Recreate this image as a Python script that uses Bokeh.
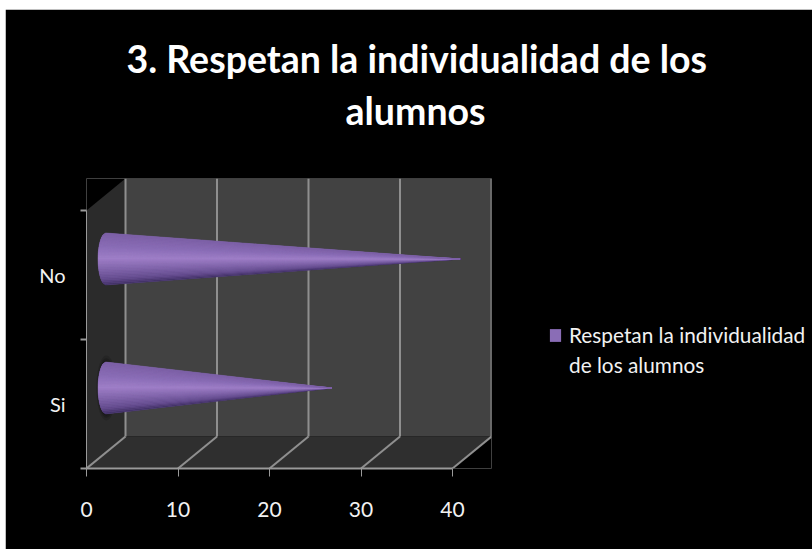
from bokeh.plotting import figure
from bokeh.models import FixedTicker, Title, Legend, LegendItem, Range1d
from bokeh.embed import file_html
from bokeh.resources import INLINE
import math

title_lines = ["3. Respetan la individualidad de los", "alumnos"]
categories = ["Si", "No"]
values = [24.7, 38.7]
x_ticks = [0, 10, 20, 30, 40]
legend_lines = ["Respetan la individualidad", "de los alumnos"]

BG = "#000000"
W, H = 807, 540
FL, FR, FT, FB = 81, 486, 169, 459
DX = 39 / 9.15
DY = 32 / 129
x_per = 366 / 40
y_per = 258 / 2

p = figure(frame_width=FR - FL, frame_height=FB - FT, output_backend="svg", toolbar_location=None,
           min_border_left=FL, min_border_right=W - FR, min_border_top=FT, min_border_bottom=H - FB,
           x_range=Range1d(0, 40 + DX), y_range=Range1d(0, 2 + DY),
           background_fill_color=BG, border_fill_color=BG,
           margin=(9, 0, 0, 5))
p.grid.visible = False
p.outline_line_color = None

top = 2 + DY
xmax = 40 + DX
p.patch([0, DX, DX, 0], [0, DY, top, 2], fill_color="#2b2b2b", line_color=None)
p.patch([DX, xmax, xmax, DX], [DY, DY, top, top], fill_color="#424242", line_color=None)
p.patch([0, 40, xmax, DX], [0, 0, DY, DY], fill_color="#2f2f2f", line_color=None)

GRID = "#8f8f8f"
p.segment([t + DX for t in x_ticks], [top] * 5, [t + DX for t in x_ticks], [DY] * 5,
          line_color=GRID, line_width=2)
p.segment([t + DX for t in x_ticks], [DY] * 5, x_ticks, [0] * 5, line_color=GRID, line_width=2)

# cones, at half depth of the box
anchors = [(0.0, (0x40, 0x30, 0x64)), (0.12, (0x66, 0x4d, 0x90)), (0.3, (0x80, 0x64, 0xaa)),
           (0.52, (0xa0, 0x80, 0xc8)), (0.75, (0x8a, 0x6d, 0xb6)), (1.0, (0x7c, 0x60, 0xa6))]


def shade(t):
    for (t0, c0), (t1, c1) in zip(anchors, anchors[1:]):
        if t <= t1:
            u = (t - t0) / (t1 - t0)
            return "#%02x%02x%02x" % tuple(round(a + (b - a) * u) for a, b in zip(c0, c1))
    return "#7c60a6"


n = 32
cx, cy = DX / 2, DY / 2
rx = 8 / x_per
ry = 26 / y_per


def arc_point(f):
    return (cx - rx * math.sqrt(max(0, 1 - f * f)), f * ry)


# soft shadow on the side wall behind the lower cone
for k, a in [(1.25, 0.2), (1.15, 0.3), (1.06, 0.4)]:
    p.ellipse([cx * 1.02], [0.5 + cy], width=2 * rx * k, height=2 * ry * k, fill_color="#111111",
              fill_alpha=a, line_color=None)

base_xs, base_ys = [], []
strip_xs, strip_ys, strip_c = [], [], []
for i, v in enumerate(values):
    yc = i + 0.5 + cy
    xt = v + cx
    fs = [-1 + 2 * j / 24 for j in range(25)]
    base_xs.append([arc_point(f)[0] for f in fs] + [xt])
    base_ys.append([yc + arc_point(f)[1] for f in fs] + [yc])
    for k in range(n):
        f0 = -1 + 2 * k / n
        f1 = -1 + 2 * (k + 1) / n
        pts = [arc_point(f0 + (f1 - f0) * j / 4) for j in range(5)]
        strip_xs.append([a for a, _ in pts] + [xt])
        strip_ys.append([yc + b for _, b in pts] + [yc])
        strip_c.append(shade((k + 0.5) / n))

base = p.patches(base_xs, base_ys, fill_color="#8a6db6", line_color=None)
p.patches(strip_xs, strip_ys, fill_color=strip_c, line_color=strip_c, line_width=0.5)
blank = p.patches(base_xs, base_ys, fill_alpha=0, line_alpha=0)

AX = "#9a9a9a"
p.xaxis[0].ticker = FixedTicker(ticks=x_ticks)
p.xaxis[0].bounds = (0, 40)
p.xaxis.axis_line_color = AX
p.xaxis.axis_line_width = 2
p.xaxis.major_tick_line_color = AX
p.xaxis.major_tick_line_width = 1
p.xaxis.major_tick_out = 8
p.xaxis.major_tick_in = 0
p.xaxis.minor_tick_line_color = None
p.xaxis.major_label_text_color = "#f2f2f2"
p.xaxis.major_label_text_font = "Lato"
p.xaxis.major_label_text_font_size = "21px"
p.xaxis.major_label_standoff = 25

p.yaxis[0].ticker = FixedTicker(ticks=[0.5, 1.5], minor_ticks=[0, 1, 2])
p.yaxis[0].bounds = (0, 2)
p.yaxis.major_label_overrides = {0.5: categories[0], 1.5: categories[1]}
p.yaxis.axis_line_color = AX
p.yaxis.axis_line_width = 1
p.yaxis.major_tick_line_color = None
p.yaxis.minor_tick_line_color = AX
p.yaxis.minor_tick_line_width = 2
p.yaxis.minor_tick_out = 6
p.yaxis.minor_tick_in = 0
p.yaxis.major_label_text_color = "#f2f2f2"
p.yaxis.major_label_text_font = "Lato"
p.yaxis.major_label_text_font_size = "20px"
p.yaxis.major_label_standoff = 15
p.yaxis.major_label_orientation = "horizontal"

# an empty title below the two lines holds the gap above the plot
p.add_layout(Title(text=" ", standoff=33, text_font_size="10px"), "above")
for line, off, so in zip(title_lines[::-1], [259, 40], [0, 10]):
    p.add_layout(Title(text=line, align="left", offset=off, standoff=so,
                       text_color="#ffffff", text_font="Lato", text_font_style="bold",
                       text_font_size="37.5px"), "above")

legend = Legend(items=[LegendItem(label=legend_lines[0], renderers=[base]),
                       LegendItem(label=legend_lines[1], renderers=[blank])],
                location=(57, 91), background_fill_alpha=0, border_line_color=None,
                label_text_color="#f2f2f2", label_text_font="Lato", label_text_font_size="20.8px",
                glyph_width=14, glyph_height=16, padding=0, margin=0, label_standoff=7, spacing=5)
p.add_layout(legend, "right")

open("out.html", "w").write(file_html(p, INLINE))
